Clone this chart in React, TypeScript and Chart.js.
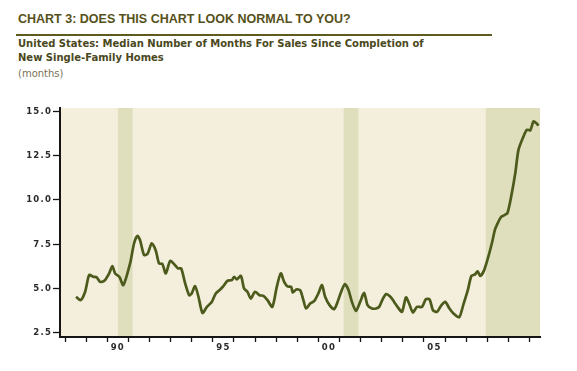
import React, { useEffect, useRef } from "react";
import { Chart, registerables } from "chart.js";

Chart.register(...registerables);

// Decimal year of each reading
const years: number[] = [
  1988.52, 1988.74, 1988.95, 1989.14, 1989.34, 1989.5, 1989.66, 1989.86, 1990.09, 1990.24,
  1990.37, 1990.57, 1990.76, 1991.08, 1991.27, 1991.43, 1991.55, 1991.74, 1991.9, 1992.11,
  1992.3, 1992.45, 1992.61, 1992.77, 1992.98, 1993.17, 1993.35, 1993.5, 1993.69, 1993.88,
  1994.0, 1994.16, 1994.32, 1994.51, 1994.72, 1994.95, 1995.14, 1995.35, 1995.5, 1995.69,
  1995.9, 1996.01, 1996.14, 1996.33, 1996.48, 1996.64, 1996.8, 1997.0, 1997.21, 1997.4,
  1997.59, 1997.82, 1998.03, 1998.22, 1998.38, 1998.54, 1998.71, 1998.79, 1998.95, 1999.14,
  1999.29, 1999.42, 1999.61, 1999.8, 2000.0, 2000.17, 2000.32, 2000.53, 2000.75, 2000.91,
  2001.08, 2001.26, 2001.43, 2001.59, 2001.78, 2001.98, 2002.17, 2002.33, 2002.54, 2002.73,
  2002.88, 2003.06, 2003.21, 2003.4, 2003.59, 2003.75, 2003.96, 2004.15, 2004.3, 2004.48,
  2004.67, 2004.91, 2005.09, 2005.27, 2005.43, 2005.62, 2005.81, 2006.01, 2006.21, 2006.4,
  2006.67, 2006.87, 2007.08, 2007.25, 2007.42, 2007.54, 2007.67, 2007.84, 2008.04, 2008.22,
  2008.38, 2008.54, 2008.66, 2008.82, 2008.96, 2009.12, 2009.33, 2009.48, 2009.72, 2009.88,
  2010.04, 2010.19, 2010.32, 2010.43,
];

// Median number of months for sale since completion
const monthsForSale: number[] = [
  4.54, 4.35, 4.82, 5.76, 5.67, 5.63, 5.38, 5.44, 5.86, 6.27,
  5.86, 5.67, 5.2, 6.42, 7.56, 7.97, 7.74, 6.9, 6.95, 7.56,
  7.14, 6.42, 6.39, 5.86, 6.56, 6.38, 6.14, 6.14, 5.29, 4.63,
  4.73, 5.14, 4.54, 3.63, 3.97, 4.25, 4.73, 4.95, 5.14, 5.44,
  5.48, 5.67, 5.52, 5.72, 5.01, 4.82, 4.44, 4.82, 4.63, 4.59,
  4.35, 3.97, 5.1, 5.86, 5.38, 5.12, 5.1, 4.78, 4.95, 4.91,
  4.35, 3.88, 4.16, 4.29, 4.73, 5.2, 4.54, 4.07, 3.84, 4.25,
  4.82, 5.25, 4.91, 4.25, 3.74, 4.25, 4.76, 4.07, 3.88, 3.88,
  3.97, 4.44, 4.69, 4.56, 4.25, 3.97, 3.69, 4.5, 4.16, 3.65,
  3.97, 3.97, 4.4, 4.39, 3.78, 3.69, 4.03, 4.25, 3.88, 3.6,
  3.38, 4.1, 4.91, 5.72, 5.8, 5.97, 5.72, 6.0, 6.75, 7.56,
  8.38, 8.8, 9.05, 9.15, 9.27, 10.1, 11.52, 12.83, 13.59, 13.96,
  13.93, 14.43, 14.34, 14.19,
];

// Recession periods (decimal years)
const recessionStarts: number[] = [1990.5, 2001.2, 2007.93];
const recessionEnds: number[] = [1991.2, 2001.9, 2010.5];

// Axis ticks
const yTicks: number[] = [2.5, 5.0, 7.5, 10.0, 12.5, 15.0];
const yearTicks: number[] = [
  1988, 1989, 1990, 1991, 1992, 1993, 1994, 1995, 1996, 1997, 1998, 1999,
  2000, 2001, 2002, 2003, 2004, 2005, 2006, 2007, 2008, 2009, 2010,
];
const labelYears: number[] = [1990, 1995, 2000, 2005];
const xTickLabels: string[] = ["90", "95", "00", "05"];

const PLOT_BG = "#f4efdc";
const RECESSION_BG = "#dfdfbd";
const LINE_COLOR = "#4c5a1c";
const AXIS_COLOR = "#151515";

export default function App() {
  const canvasRef = useRef<HTMLCanvasElement | null>(null);

  useEffect(() => {
    if (!canvasRef.current) return;

    const backgroundPlugin = {
      id: "plotBackground",
      beforeDraw(chart: any) {
        const { ctx, chartArea, scales } = chart;
        const xs = scales.x;
        ctx.save();
        ctx.fillStyle = PLOT_BG;
        ctx.fillRect(chartArea.left, chartArea.top, chartArea.right - chartArea.left, chartArea.bottom - chartArea.top);
        ctx.fillStyle = RECESSION_BG;
        for (let i = 0; i < recessionStarts.length; i++) {
          const x0 = Math.max(chartArea.left, xs.getPixelForValue(recessionStarts[i]));
          const x1 = Math.min(chartArea.right, xs.getPixelForValue(recessionEnds[i]));
          ctx.fillRect(x0, chartArea.top, x1 - x0, chartArea.bottom - chartArea.top);
        }
        ctx.restore();
        (ctx as any).letterSpacing = "1.2px";
      },
    };

    const tickFont = { family: "'DejaVu Sans', sans-serif", size: 8.5, weight: "bold" as const };

    const chart = new Chart(canvasRef.current, {
      type: "line",
      data: {
        datasets: [
          {
            data: years.map((x, i) => ({ x, y: monthsForSale[i] })),
            borderColor: LINE_COLOR,
            borderWidth: 2.7,
            pointRadius: 0,
            tension: 0.25,
            fill: false,
          },
        ],
      },
      options: {
        animation: false,
        responsive: false,
        events: [],
        layout: { padding: { top: 18, right: 37, left: 0, bottom: 0 } },
        plugins: { legend: { display: false }, tooltip: { enabled: false }, title: { display: false } },
        scales: {
          x: {
            type: "linear",
            min: 1987.76,
            max: 2010.5,
            afterBuildTicks: (scale: any) => {
              const t = yearTicks.map((v) => ({ value: v }));
              labelYears.forEach((y) => t.push({ value: y + 0.5 }));
              scale.ticks = t;
            },
            afterFit: (scale: any) => {
              scale.height = 34;
            },
            grid: {
              drawOnChartArea: false,
              drawTicks: true,
              tickLength: 5,
              tickWidth: 1.3,
              tickColor: (ctx: any) =>
                ctx.tick && Number.isInteger(ctx.tick.value) ? AXIS_COLOR : "rgba(0,0,0,0)",
            },
            border: { display: true, color: AXIS_COLOR, width: 2 },
            ticks: {
              autoSkip: false,
              maxRotation: 0,
              padding: 1,
              color: "#2a2a2a",
              font: tickFont,
              callback: (value: any) => {
                const idx = labelYears.findIndex((y) => Math.abs(y + 0.5 - Number(value)) < 0.01);
                return idx >= 0 ? xTickLabels[idx] : "";
              },
            },
          },
          y: {
            type: "linear",
            min: 2.27,
            max: 15.19,
            afterBuildTicks: (scale: any) => {
              scale.ticks = yTicks.map((v) => ({ value: v }));
            },
            afterFit: (scale: any) => {
              scale.width = 60;
            },
            grid: {
              drawOnChartArea: false,
              drawTicks: true,
              tickLength: 7,
              tickWidth: 1.3,
              tickColor: AXIS_COLOR,
            },
            border: { display: true, color: AXIS_COLOR, width: 2 },
            ticks: {
              padding: 1,
              color: "#2a2a2a",
              font: tickFont,
              callback: (value: any) => Number(value).toFixed(1),
            },
          },
        },
      },
      plugins: [backgroundPlugin],
    });

    return () => chart.destroy();
  }, []);

  return (
    <div style={{ position: "absolute", left: 0, top: 0, width: 577, height: 371, background: "#ffffff", overflow: "hidden" }}>
      <div
        style={{
          position: "absolute",
          left: 18,
          top: 12.7,
          fontFamily: "'Liberation Sans', Arial, sans-serif",
          fontWeight: "bold",
          fontSize: 12.5,
          lineHeight: "12.5px",
          color: "#56511a",
          whiteSpace: "nowrap",
        }}
      >
        CHART 3: DOES THIS CHART LOOK NORMAL TO YOU?
      </div>
      <div style={{ position: "absolute", left: 16, top: 33.5, width: 476, height: 2.5, background: "#5d5c1e" }} />
      <div
        style={{
          position: "absolute",
          left: 18,
          top: 37,
          fontFamily: "'DejaVu Sans', sans-serif",
          fontWeight: "bold",
          fontSize: 10,
          lineHeight: "14px",
          color: "#4a4820",
          whiteSpace: "nowrap",
        }}
      >
        United States: Median Number of Months For Sales Since Completion of
        <br />
        New Single-Family Homes
      </div>
      <div
        style={{
          position: "absolute",
          left: 18,
          top: 67,
          fontFamily: "'DejaVu Sans', sans-serif",
          fontSize: 10,
          lineHeight: "14px",
          color: "#7a7255",
          whiteSpace: "nowrap",
        }}
      >
        (months)
      </div>
      <canvas
        ref={canvasRef}
        width={577}
        height={281}
        style={{ position: "absolute", left: 0, top: 90, width: 577, height: 281 }}
      />
    </div>
  );
}
